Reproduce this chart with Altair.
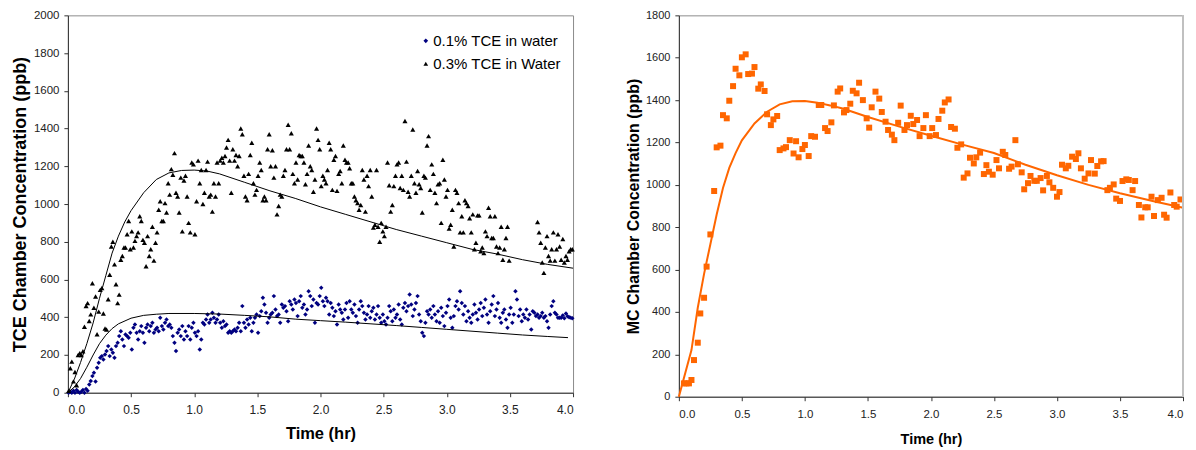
import altair as alt
import pandas as pd

# ---------------- data ----------------
# sampling times (hr) used by both TCE series
time_grid = [
    0.006, 0.019, 0.031, 0.044, 0.056, 0.069, 0.081, 0.094,
    0.106, 0.119, 0.131, 0.144, 0.156, 0.169, 0.181, 0.194,
    0.206, 0.219, 0.231, 0.244, 0.256, 0.269, 0.281, 0.294,
    0.306, 0.319, 0.331, 0.344, 0.356, 0.369, 0.381, 0.394,
    0.406, 0.419, 0.431, 0.444, 0.456, 0.469, 0.481, 0.494,
    0.506, 0.519, 0.531, 0.544, 0.556, 0.569, 0.581, 0.594,
    0.606, 0.619, 0.631, 0.644, 0.656, 0.669, 0.681, 0.694,
    0.706, 0.719, 0.731, 0.744, 0.756, 0.769, 0.781, 0.794,
    0.806, 0.819, 0.831, 0.844, 0.856, 0.869, 0.881, 0.894,
    0.906, 0.919, 0.931, 0.944, 0.956, 0.969, 0.981, 0.994,
    1.006, 1.019, 1.031, 1.044, 1.056, 1.069, 1.081, 1.094,
    1.106, 1.119, 1.131, 1.144, 1.156, 1.169, 1.181, 1.194,
    1.206, 1.219, 1.231, 1.244, 1.256, 1.269, 1.281, 1.294,
    1.306, 1.319, 1.331, 1.344, 1.356, 1.369, 1.381, 1.394,
    1.406, 1.419, 1.431, 1.444, 1.456, 1.469, 1.481, 1.494,
    1.506, 1.519, 1.531, 1.544, 1.556, 1.569, 1.581, 1.594,
    1.606, 1.619, 1.631, 1.644, 1.656, 1.669, 1.681, 1.694,
    1.706, 1.719, 1.731, 1.744, 1.756, 1.769, 1.781, 1.794,
    1.806, 1.819, 1.831, 1.844, 1.856, 1.869, 1.881, 1.894,
    1.906, 1.919, 1.931, 1.944, 1.956, 1.969, 1.981, 1.994,
    2.006, 2.019, 2.031, 2.044, 2.056, 2.069, 2.081, 2.094,
    2.106, 2.119, 2.131, 2.144, 2.156, 2.169, 2.181, 2.194,
    2.206, 2.219, 2.231, 2.244, 2.256, 2.269, 2.281, 2.294,
    2.306, 2.319, 2.331, 2.344, 2.356, 2.369, 2.381, 2.394,
    2.406, 2.419, 2.431, 2.444, 2.456, 2.469, 2.481, 2.494,
    2.506, 2.519, 2.531, 2.544, 2.556, 2.569, 2.581, 2.594,
    2.606, 2.619, 2.631, 2.644, 2.656, 2.669, 2.681, 2.694,
    2.706, 2.719, 2.731, 2.744, 2.756, 2.769, 2.781, 2.794,
    2.806, 2.819, 2.831, 2.844, 2.856, 2.869, 2.881, 2.894,
    2.906, 2.919, 2.931, 2.944, 2.956, 2.969, 2.981, 2.994,
    3.006, 3.019, 3.031, 3.044, 3.056, 3.069, 3.081, 3.094,
    3.106, 3.119, 3.131, 3.144, 3.156, 3.169, 3.181, 3.194,
    3.206, 3.219, 3.231, 3.244, 3.256, 3.269, 3.281, 3.294,
    3.306, 3.319, 3.331, 3.344, 3.356, 3.369, 3.381, 3.394,
    3.406, 3.419, 3.431, 3.444, 3.456, 3.469, 3.481, 3.494,
    3.506, 3.519, 3.531, 3.544, 3.556, 3.569, 3.581, 3.594,
    3.606, 3.619, 3.631, 3.644, 3.656, 3.669, 3.681, 3.694,
    3.706, 3.719, 3.731, 3.744, 3.756, 3.769, 3.781, 3.794,
    3.806, 3.819, 3.831, 3.844, 3.856, 3.869, 3.881, 3.894,
    3.906, 3.919, 3.931, 3.944, 3.956, 3.969, 3.981, 3.994,
]

# 0.1% TCE in water (ppb)
tce01_ppb = [
    0, 5, 0, 10, 0, 15, 5, 0,
    5, 15, 0, 20, 10, 44, 62, 88,
    106, 60, 132, 159, 185, 194, 176, 203,
    221, 247, 194, 229, 212, 185, 247, 265,
    300, 326, 282, 247, 309, 300, 291, 318,
    229, 344, 362, 318, 282, 326, 353, 318,
    265, 344, 362, 326, 353, 371, 318, 335,
    344, 326, 397, 353, 335, 371, 388, 353,
    362, 344, 300, 265, 221, 318, 335, 300,
    353, 282, 326, 300, 353, 282, 344, 371,
    318, 300, 326, 229, 282, 371, 362, 388,
    415, 371, 388, 424, 397, 371, 388, 415,
    371, 344, 379, 353, 362, 318, 326, 318,
    326, 335, 326, 344, 371, 326, 459, 371,
    344, 388, 362, 397, 326, 371, 397, 415,
    318, 406, 432, 503, 468, 424, 371, 397,
    415, 424, 512, 441, 406, 415, 371, 468,
    450, 459, 432, 379, 485, 468, 441, 494,
    476, 406, 485, 512, 450, 468, 415, 441,
    538, 512, 459, 494, 371, 476, 468, 512,
    556, 485, 459, 503, 485, 415, 476, 450,
    406, 432, 362, 468, 441, 424, 388, 441,
    476, 397, 485, 441, 424, 468, 406, 371,
    441, 485, 459, 424, 388, 415, 459, 397,
    432, 450, 388, 415, 459, 397, 371, 415,
    379, 362, 397, 459, 432, 379, 441, 397,
    415, 468, 388, 362, 450, 476, 432, 459,
    520, 468, 406, 441, 476, 512, 415, 379,
    318, 300, 371, 432, 415, 441, 397, 459,
    415, 379, 432, 371, 450, 406, 353, 424,
    459, 494, 397, 344, 406, 459, 485, 441,
    538, 476, 415, 459, 379, 432, 397, 371,
    415, 468, 424, 388, 441, 476, 406, 450,
    494, 415, 371, 432, 468, 512, 406, 441,
    476, 397, 371, 424, 441, 388, 344, 415,
    450, 371, 415, 538, 494, 406, 441, 379,
    415, 397, 441, 388, 415, 335, 432, 424,
    406, 415, 397, 406, 424, 397, 406, 379,
    344, 415, 459, 485, 424, 415, 397, 397,
    397, 410, 395, 420, 405, 400, 398, 395,
]

# 0.3% TCE in Water (ppb); None = no reading (gap 3.5-3.7 hr)
tce03_ppb = [
    10, 130, 165, 60, 110, 40, 200, 210,
    200, 220, 350, 460, 475, 380, 415, 580,
    450, 510, 310, 430, 545, 555, 420, 340,
    335, 495, 625, 775, 800, 680, 575, 475,
    520, 705, 725, 770, 770, 840, 910, 760,
    855, 770, 805, 830, 850, 935, 910, 810,
    795, 670, 830, 725, 760, 880, 700, 795,
    850, 970, 1015, 910, 910, 1005, 955, 1110,
    1050, 1185, 1155, 1270, 1060, 1040, 955, 1140,
    855, 1125, 1150, 1040, 900, 850, 1220, 1210,
    840, 1015, 1230, 1110, 1180, 1000, 1060, 1180,
    1225, 1040, 1050, 960, 1110, 1040, 1220, 1110,
    1230, 1245, 1220, 1255, 1300, 1340, 1230, 1060,
    1290, 1230, 1260, 1200, 1255, 1400, 1370, 1150,
    1040, 1020, 1160, 1260, 1325, 1110, 1050, 1075,
    1150, 1220, 1180, 1020, 1040, 1020, 1290, 1370,
    1200, 1285, 1140, 1200, 945, 990, 1050, 1040,
    1150, 1180, 1290, 1420, 1290, 1375, 1160, 1110,
    1220, 1130, 1260, 1255, 1255, 1220, 1105, 1160,
    1310, 1200, 1180, 1065, 1130, 1400, 1340, 1290,
    1095, 1150, 1130, 1110, 1180, 1325, 1290, 1075,
    1235, 1255, 1070, 1160, 1175, 1110, 1310, 1235,
    1220, 1220, 1190, 1110, 1110, 1040, 1020, 1005,
    970, 995, 1180, 1130, 960, 1150, 1095, 1180,
    1040, 875, 890, 1180, 880, 800, 900, 855,
    830, 880, 1220, 1100, 960, 995, 1095, 1150,
    1210, 1220, 1085, 1150, 1075, 1440, 1225, 1065,
    1040, 1150, 1395, 1110, 1060, 1175, 1105, 1085,
    955, 1150, 1140, 1310, 1360, 1075, 1210, 1160,
    1060, 1005, 1105, 1110, 900, 1235, 1130, 1040,
    1075, 870, 890, 970, 775, 1075, 1060, 1005,
    850, 935, 850, 1020, 1005, 990, 925, 850,
    945, 760, 795, 940, 940, 750, 770, 740,
    855, 830, 980, 935, 820, 820, 935, 775,
    740, 770, 880, 705, 760, 820, 880, 700,
    None, None, None, None, None, None, None, None,
    None, None, None, None, None, None, None, None,
    None, 905, 850, 795, 690, 635, 770, 830,
    725, 700, 760, 850, 700, 760, 840, 775,
    705, 815, 690, 725, 705, 750, 760, 760,
]

# model curves, left panel
fit01_t = [0, 0.05, 0.1, 0.15, 0.2, 0.25, 0.3, 0.35, 0.4, 0.5, 0.6, 0.7, 0.8, 1.0,
           1.2, 1.4, 1.6, 1.8, 2.0, 2.2, 2.4, 2.6, 2.8, 3.0, 3.2, 3.4, 3.6, 3.8, 3.96]
fit01_v = [0, 30, 75, 135, 200, 260, 305, 340, 365, 395, 410, 416, 420, 420,
           417, 410, 402, 390, 382, 374, 365, 356, 346, 336, 326, 316, 306, 298, 292]
fit03_t = [0, 0.05, 0.1, 0.15, 0.2, 0.25, 0.3, 0.35, 0.4, 0.45, 0.5, 0.6, 0.7, 0.8,
           0.9, 1.0, 1.1, 1.2, 1.4, 1.6, 1.8, 2.0, 2.2, 2.4, 2.6, 2.8, 3.0, 3.2,
           3.4, 3.6, 3.8, 4.0]
fit03_v = [0, 70, 160, 260, 370, 500, 620, 740, 830, 905, 965, 1060, 1130, 1165,
           1178, 1180, 1175, 1160, 1115, 1070, 1030, 985, 945, 905, 865, 830, 795, 760,
           735, 705, 680, 660]

# MC chamber concentration (right panel)
mc_t = [
    0.04, 0.06, 0.08, 0.10, 0.12, 0.15, 0.17, 0.20, 0.22, 0.25,
    0.28, 0.30, 0.33, 0.35, 0.38, 0.40, 0.43, 0.45, 0.48, 0.50,
    0.53, 0.55, 0.58, 0.60, 0.63, 0.65, 0.68, 0.70, 0.73, 0.75,
    0.78, 0.80, 0.83, 0.85, 0.88, 0.91, 0.93, 0.95, 0.98, 1.00,
    1.03, 1.05, 1.08, 1.11, 1.13, 1.16, 1.18, 1.21, 1.23, 1.26,
    1.28, 1.31, 1.33, 1.36, 1.38, 1.41, 1.43, 1.46, 1.49, 1.51,
    1.53, 1.56, 1.59, 1.61, 1.64, 1.66, 1.69, 1.71, 1.74, 1.76,
    1.79, 1.81, 1.84, 1.86, 1.89, 1.91, 1.94, 1.96, 1.99, 2.01,
    2.04, 2.06, 2.09, 2.11, 2.14, 2.16, 2.19, 2.21, 2.24, 2.26,
    2.29, 2.31, 2.34, 2.36, 2.39, 2.42, 2.44, 2.46, 2.49, 2.52,
    2.54, 2.57, 2.59, 2.62, 2.64, 2.67, 2.69, 2.72, 2.74, 2.77,
    2.79, 2.82, 2.84, 2.87, 2.89, 2.92, 2.94, 2.97, 3.00, 3.02,
    3.04, 3.07, 3.09, 3.12, 3.15, 3.17, 3.19, 3.22, 3.25, 3.27,
    3.30, 3.32, 3.35, 3.37, 3.40, 3.42, 3.45, 3.47, 3.50, 3.52,
    3.55, 3.57, 3.60, 3.62, 3.65, 3.67, 3.70, 3.72, 3.75, 3.77,
    3.80, 3.83, 3.85, 3.87, 3.90, 3.93, 3.95, 3.98,
]
mc_ppb = [
    63, 63, 63, 79, 173, 255, 393, 467, 614, 766,
    971, 1177, 1185, 1329, 1314, 1397, 1466, 1548, 1517, 1602,
    1616, 1523, 1525, 1556, 1454, 1474, 1443, 1333, 1282, 1309,
    1325, 1164, 1172, 1178, 1211, 1148, 1206, 1130, 1169, 1188,
    1136, 1230, 1227, 1377, 1377, 1268, 1254, 1295, 1375, 1440,
    1455, 1342, 1353, 1383, 1444, 1432, 1482, 1400, 1314, 1270,
    1366, 1440, 1407, 1344, 1298, 1259, 1237, 1211, 1293, 1374,
    1259, 1282, 1326, 1287, 1306, 1230, 1268, 1329, 1230, 1268,
    1235, 1311, 1350, 1389, 1403, 1273, 1265, 1175, 1191, 1034,
    1054, 1128, 1101, 1130, 1152, 1051, 1093, 1062, 1048, 1117,
    1078, 1156, 1141, 1076, 1086, 1211, 1097, 1059, 979, 1008,
    1042, 1019, 1019, 1032, 974, 1042, 1012, 986, 944, 966,
    1095, 1078, 1090, 1133, 1122, 1149, 1078, 1029, 1054, 1117,
    1053, 1089, 1111, 1112, 975, 986, 1002, 935, 924, 1018,
    1026, 1023, 975, 1018, 905, 846, 894, 894, 944, 853,
    928, 939, 859, 845, 964, 905, 897, 931,
]
mcfit_t = [0, 0.1, 0.15, 0.2, 0.25, 0.3, 0.35, 0.4, 0.45, 0.5, 0.6, 0.7, 0.8, 0.9,
           1.0, 1.1, 1.2, 1.3, 1.5, 1.75, 2.0, 2.25, 2.5, 2.75, 3.0, 3.25, 3.5,
           3.75, 4.0]
mcfit_v = [0, 220, 420, 580, 720, 860, 985, 1080, 1150, 1210, 1290, 1345, 1380, 1395,
           1396, 1388, 1375, 1360, 1320, 1275, 1232, 1190, 1150, 1095, 1045, 1000, 960,
           925, 892]

series_names = ["0.1% TCE in water", "0.3% TCE in Water"]
x_ticks = [0.0, 0.5, 1.0, 1.5, 2.0, 2.5, 3.0, 3.5, 4.0]

# ---------------- tables ----------------
left_pts = pd.DataFrame({
    "t": time_grid + time_grid,
    "v": tce01_ppb + tce03_ppb,
    "series": [series_names[0]] * len(time_grid) + [series_names[1]] * len(time_grid),
}).dropna()
left_fit = pd.DataFrame({
    "t": fit01_t + fit03_t,
    "v": fit01_v + fit03_v,
    "curve": ["a"] * len(fit01_t) + ["b"] * len(fit03_t),
})
mc_pts = pd.DataFrame({"t": mc_t, "v": mc_ppb})
mc_fit = pd.DataFrame({"t": mcfit_t, "v": mcfit_v})

FONT = "Liberation Sans"
AX = dict(grid=False, domainColor="#333333", tickColor="#333333", tickSize=4,
          labelColor="#222222", titleColor="#000000", labelFont=FONT, titleFont=FONT,
          titleFontWeight="bold")


def x_enc(label_size, title_size, title_pad):
    return alt.X("t:Q", scale=alt.Scale(domain=[0, 4], nice=False, zero=False),
                 axis=alt.Axis(values=x_ticks, format=".1f", title="Time (hr)",
                               labelFontSize=label_size, titleFontSize=title_size,
                               labelPadding=8, titlePadding=title_pad, **AX))


def y_enc(top, title, label_size, title_size, title_pad):
    return alt.Y("v:Q", scale=alt.Scale(domain=[0, top], nice=False),
                 axis=alt.Axis(values=list(range(0, top + 1, 200)), format="d", title=title,
                               labelFontSize=label_size, titleFontSize=title_size,
                               labelPadding=5, titlePadding=title_pad, **AX))


# ---------------- left panel ----------------
lx = x_enc(12, 16.5, 10)
ly = y_enc(2000, "TCE Chamber Concentration (ppb)", 11.5, 18, 4)
legend = alt.Legend(title=None, orient="none", legendX=351, legendY=18,
                    labelFont=FONT, labelFontSize=15, labelColor="#000000",
                    symbolSize=22, labelOffset=0, rowPadding=7, padding=0,
                    symbolStrokeWidth=0)
left_points = alt.Chart(left_pts).mark_point(filled=True, opacity=1, strokeWidth=0).encode(
    x=lx, y=ly,
    color=alt.Color("series:N", scale=alt.Scale(domain=series_names,
                                                range=["#000080", "#000000"]), legend=legend),
    shape=alt.Shape("series:N", scale=alt.Scale(domain=series_names,
                                                range=["diamond", "triangle-up"]), legend=legend),
    size=alt.Size("series:N", scale=alt.Scale(domain=series_names, range=[20, 26]),
                  legend=None),
)
left_lines = alt.Chart(left_fit).mark_line(color="#000000", strokeWidth=1).encode(
    x=lx, y=ly, detail="curve:N")
left = alt.layer(left_points, left_lines).properties(width=506, height=378)

# ---------------- right panel ----------------
rx = x_enc(11.5, 14.5, 12)
ry = y_enc(1800, "MC Chamber Concentration (ppb)", 11, 16, 4)
mc_points = alt.Chart(mc_pts).mark_square(color="#FF6600", size=36, opacity=1).encode(x=rx, y=ry)
mc_line = alt.Chart(mc_fit).mark_line(color="#FF6600", strokeWidth=2).encode(x=rx, y=ry)
mc_edge = alt.Chart(mc_fit).mark_rule(color="#c0c0c0", strokeWidth=2).encode(x=alt.datum(4))
right = alt.layer(mc_points, mc_line, mc_edge).properties(width=505, height=382)

chart = alt.hconcat(left, right, spacing=106, bounds="flush").resolve_legend(
    color="independent", shape="independent"
).properties(
    padding={"left": 2, "top": 0, "right": 0, "bottom": 0}
).configure_view(stroke="#8c8c8c", strokeWidth=1)

chart.save("out.html", embed_options={"renderer": "svg", "actions": False})
